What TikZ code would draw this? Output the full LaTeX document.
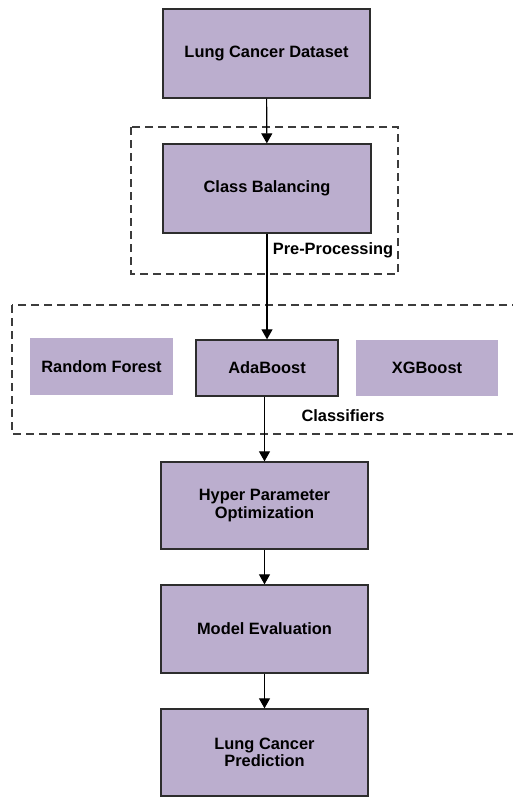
\documentclass[tikz,border=0pt]{standalone}
\usepackage{fontspec}
\setmainfont{Liberation Sans}
\usetikzlibrary{arrows.meta}
\definecolor{boxfill}{RGB}{187,174,206}
\definecolor{boxline}{RGB}{45,45,45}
\definecolor{dashline}{RGB}{60,60,60}
\tikzset{
  stepbox/.style={rectangle, fill=boxfill, draw=boxline, line width=1.3pt, align=center,
    font=\fontsize{16.4}{17.5}\selectfont\bfseries, inner sep=0pt},
  plainbox/.style={rectangle, fill=boxfill, draw=none, align=center,
    font=\fontsize{16.4}{17.5}\selectfont\bfseries, inner sep=0pt},
  grouplabel/.style={inner sep=0pt, font=\fontsize{16.4}{17.5}\selectfont\bfseries},
  groupbox/.style={draw=dashline, line width=1.4pt, dash pattern=on 8pt off 5pt},
  flow/.style={draw=black, line width=1.1pt, -{Triangle[length=10pt,width=11pt]}}
}
\begin{document}
\begin{tikzpicture}[x=1pt,y=-1pt]
\clip (0,0) rectangle (513,798);
\fill[white] (0,0) rectangle (513,798);
% groups
\draw[groupbox] (131,127) rectangle (398,274);
\draw[groupbox] (12,305) rectangle (540,434);
% nodes
\node[stepbox, minimum width=207pt, minimum height=89pt] (ds) at (266.5,53.5) {Lung Cancer Dataset};
\node[stepbox, minimum width=208pt, minimum height=89pt] (cb) at (267,188.5) {Class Balancing};
\node[grouplabel] (pp) at (333,250) {Pre-Processing};
\node[plainbox, minimum width=143pt, minimum height=57pt] (rf) at (101.5,366.5) {Random Forest};
\node[stepbox, minimum width=142pt, minimum height=56pt] (ada) at (267,368) {AdaBoost};
\node[plainbox, minimum width=142pt, minimum height=56pt] (xgb) at (427,368) {XGBoost};
\node[grouplabel] (cl) at (343,416) {Classifiers};
\node[stepbox, minimum width=207pt, minimum height=87pt] (hpo) at (264.5,505.5) {Hyper Parameter\\Optimization};
\node[stepbox, minimum width=207pt, minimum height=88pt] (me) at (264.5,629) {Model Evaluation};
\node[stepbox, minimum width=207pt, minimum height=87pt] (lcp) at (264.5,752.5) {Lung Cancer\\Prediction};
% connectors
\draw[flow] (ds) -- (cb);
\draw[flow] (cb) -- (ada);
\draw[flow] (ada.south -| hpo.north) -- (hpo.north);
\draw[flow] (hpo) -- (me);
\draw[flow] (me) -- (lcp);
\end{tikzpicture}
\end{document}
